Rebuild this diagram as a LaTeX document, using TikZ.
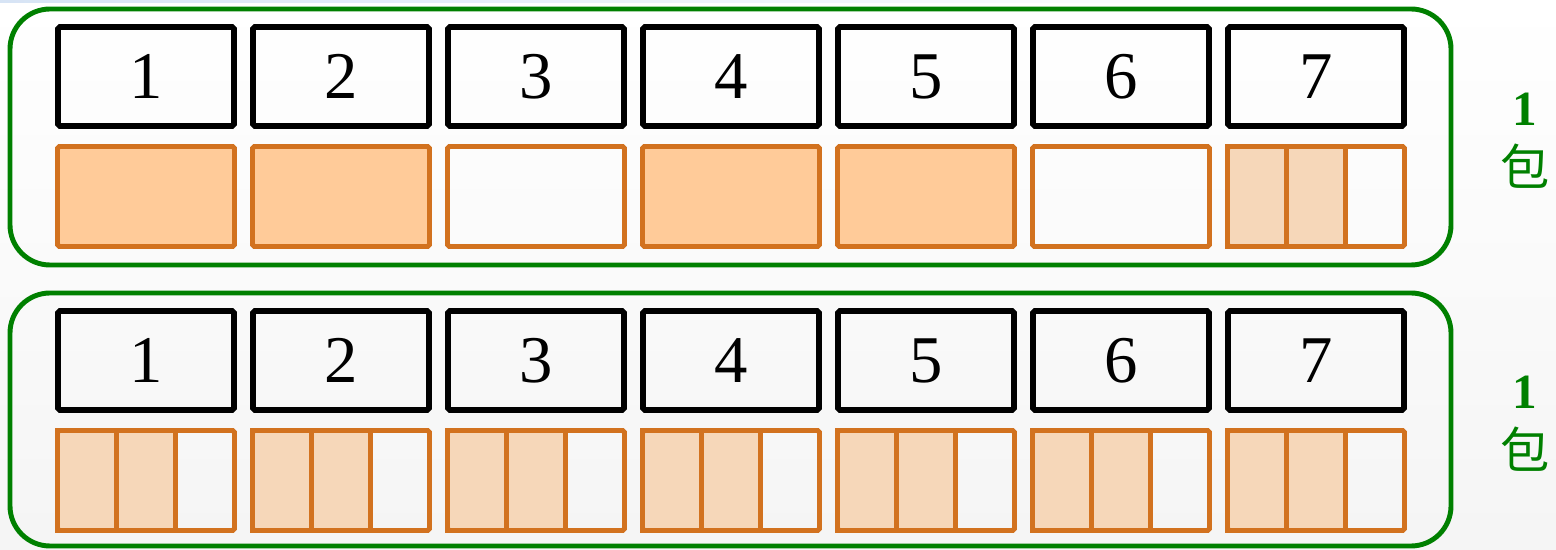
\documentclass[tikz,border=0pt]{standalone}
\usepackage{fontspec}
\setmainfont{Liberation Serif}
\newfontfamily\cjk{Noto Sans CJK SC}
\definecolor{grn}{RGB}{0,128,0}
\definecolor{org}{RGB}{210,114,31}
\definecolor{fullfill}{RGB}{255,203,153}
\definecolor{partfill}{RGB}{246,215,185}
\definecolor{topblue}{RGB}{215,228,245}
\tikzset{
  panel/.style={draw=grn, line width=2.8pt, rounded corners=0.8cm},
  numbox/.style={draw=black, line width=3.2pt, rounded corners=1pt,
    minimum width=3.52cm, minimum height=1.98cm, inner sep=0pt,
    font=\fontsize{38}{46}\selectfont},
  cellbox/.style={draw=org, line width=2.8pt, rounded corners=1pt,
    minimum width=3.54cm, minimum height=2.0cm, inner sep=0pt},
  subcell/.style={draw=org, line width=2.8pt, fill=partfill,
    minimum width=1.18cm, minimum height=2.0cm, inner sep=0pt},
  lab/.style={text=grn, align=center, font=\fontsize{28}{36}\selectfont}
}
\begin{document}
\begin{tikzpicture}[x=0.02cm, y=-0.02cm]
\useasboundingbox (0,0) rectangle (1556,550);
\fill[top color=white, bottom color=black!4] (0,0) rectangle (1556,550);
\fill[left color=topblue, right color=white] (0,0) rectangle (1250,3);
% panels
\draw[panel] (10,9) rectangle (1451,265);
\draw[panel] (10,293) rectangle (1451,546);
% number boxes
\foreach \i in {1,...,7}{
  \node[numbox] (n\i) at ({146+195*(\i-1)},76.5) {\i};
  \node[numbox] (m\i) at ({146+195*(\i-1)},360.5) {\i};
}
% top orange row
\foreach \i/\f in {1/fullfill,2/fullfill,4/fullfill,5/fullfill}{
  \node[cellbox, fill=\f] (c\i) at ({146+195*(\i-1)},196.5) {};
}
\foreach \i in {3,6}{
  \node[cellbox] (c\i) at ({146+195*(\i-1)},196.5) {};
}
% cell 7 top: thirds
\node[subcell] (c7a) at ({1316-59},196.5) {};
\node[subcell] (c7b) at (1316,196.5) {};
\node[cellbox] (c7) at (1316,196.5) {};
% bottom orange row
\foreach \i in {1,...,7}{
  \node[subcell] (d\i a) at ({146+195*(\i-1)-59},480.5) {};
  \node[subcell] (d\i b) at ({146+195*(\i-1)},480.5) {};
  \node[cellbox] (d\i) at ({146+195*(\i-1)},480.5) {};
}
% labels
\node[lab] (l1) at (1525,141) {\textbf{1}\\[-2pt]{\cjk 包}};
\node[lab] (l2) at (1525,424) {\textbf{1}\\[-2pt]{\cjk 包}};
\end{tikzpicture}
\end{document}
